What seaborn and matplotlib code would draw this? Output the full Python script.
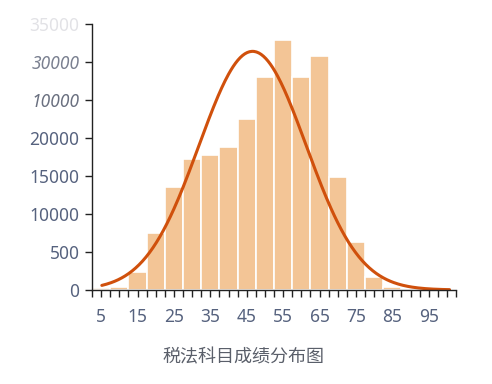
import numpy as np
import pandas as pd
import matplotlib
matplotlib.use("Agg")
import matplotlib.pyplot as plt
import seaborn as sns
from matplotlib.ticker import MultipleLocator

# bin centres (score) and counts
score_bins = [5, 10, 15, 20, 25, 30, 35, 40, 45, 50, 55, 60, 65, 70, 75, 80, 85]
counts = [300, 450, 2400, 7450, 13550, 17250, 17750, 18800, 22500,
          28000, 32950, 28000, 30800, 14850, 6250, 1750, 450]

# fitted normal curve parameters
fit_mean = 46.6
fit_sd = 14.7
fit_peak = 31400
fit_range = (5.2, 100.7)

ytick_values = [0, 5000, 10000, 15000, 20000, 25000, 30000, 35000]
ytick_labels = ["0", "500", "10000", "15000", "20000", "10000", "30000", "35000"]
xtick_values = [5, 15, 25, 35, 45, 55, 65, 75, 85, 95]
title_text = "税法科目成绩分布图"

df = pd.DataFrame({"score": score_bins, "count": counts})

sns.set_style("white")
plt.rcParams["font.family"] = ["Noto Sans", "Noto Sans CJK SC", "DejaVu Sans"]

fig = plt.figure(figsize=(4.92, 3.84), dpi=100)
ax = fig.add_axes([0.187, 0.245, 0.74, 0.6925])

sns.histplot(data=df, x="score", weights="count", binwidth=5, binrange=(2.5, 87.5),
             ax=ax, color="#F3C596", alpha=1, edgecolor="white", linewidth=1.2)

xs = np.linspace(fit_range[0], fit_range[1], 300)
ys = fit_peak * np.exp(-0.5 * ((xs - fit_mean) / fit_sd) ** 2)
sns.lineplot(x=xs, y=ys, ax=ax, color="#D0500C", linewidth=2.2)

ax.set_xlim(2.5, 102.5)
ax.set_ylim(0, 35000)
ax.set_xticks(xtick_values)
ax.xaxis.set_minor_locator(MultipleLocator(2.5))
ax.set_yticks(ytick_values)
ax.set_yticklabels(ytick_labels)
ax.set_xlabel("")
ax.set_ylabel("")

for side in ["top", "right"]:
    ax.spines[side].set_visible(False)
for side in ["left", "bottom"]:
    ax.spines[side].set_color("#222222")
    ax.spines[side].set_linewidth(1.0)

ax.tick_params(axis="both", which="both", bottom=True, left=True)
ax.tick_params(axis="both", which="major", direction="out", length=5, width=1,
               color="#222222", labelsize=12.5, labelcolor="#56627e")
ax.tick_params(axis="x", which="minor", direction="out", length=5, width=1, color="#222222")
ax.tick_params(axis="x", pad=8)
ax.tick_params(axis="y", pad=4)

# the upper labels in the source look washed out
labels = ax.get_yticklabels()
labels[5].set_color("#6a7080")
labels[5].set_style("italic")
labels[6].set_color("#7a8090")
labels[6].set_style("italic")
labels[7].set_color("#e2e2e6")

fig.text(0.495, 1 - 357 / 384, title_text, ha="center", va="center",
         fontsize=13, color="#5a5f6a",
         family=["Noto Sans CJK SC", "DejaVu Sans"])

fig.savefig("out.png", dpi=100)
